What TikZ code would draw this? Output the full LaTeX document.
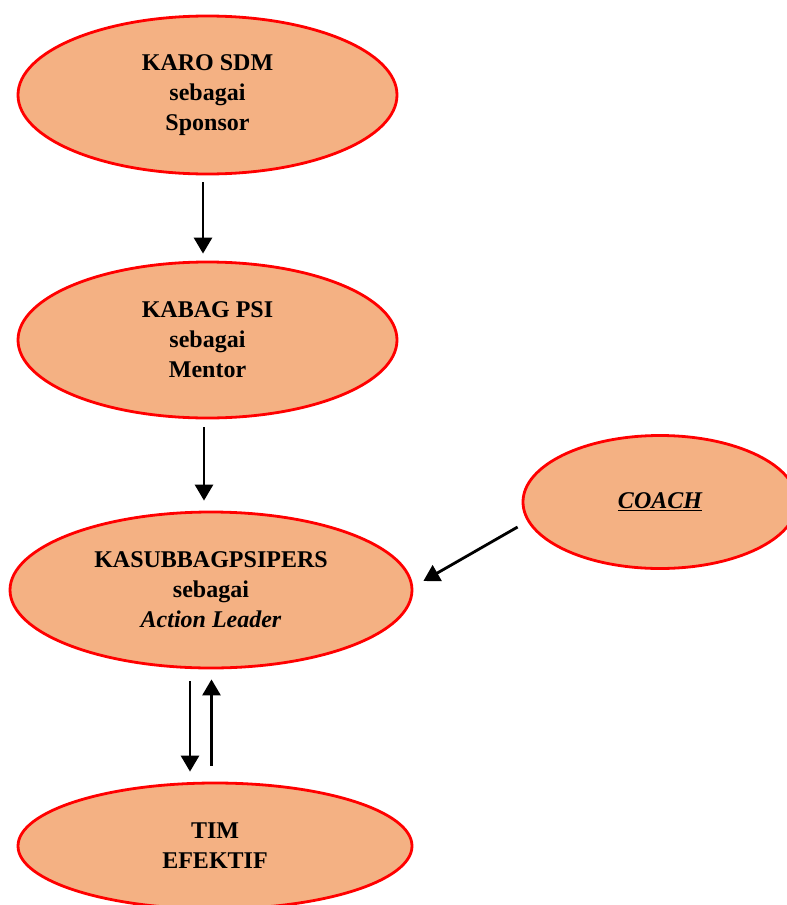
\documentclass[tikz,border=0pt]{standalone}
\usepackage{fontspec}
\setmainfont{Liberation Serif}
\usetikzlibrary{shapes.geometric,arrows.meta,calc}
\definecolor{fillor}{HTML}{F4B183}
\begin{document}
\begin{tikzpicture}[x=1pt,y=-1pt,
  oval/.style={ellipse,draw=red,line width=2.8pt,fill=fillor,inner sep=0pt,
    align=center,font=\fontsize{24}{30}\selectfont\bfseries},
  arr/.style={line width=2.8pt,-{Triangle[width=18pt,length=16pt]}}]
\useasboundingbox (0,0) rectangle (787,905);
\node[oval,minimum width=379pt,minimum height=158pt] (karo) at (207.5,95) {KARO SDM\\sebagai\\Sponsor};
\node[oval,minimum width=379pt,minimum height=156pt] (kabag) at (207.5,340) {KABAG PSI\\sebagai\\Mentor};
\node[oval,minimum width=402pt,minimum height=156pt] (kasub) at (211,590) {KASUBBAGPSIPERS\\sebagai\\\itshape Action Leader};
\node[oval,minimum width=274pt,minimum height=133pt] (coach) at (660,502) {\itshape\underline{COACH}};
\node[oval,minimum width=394pt,minimum height=126pt] (tim) at (215,846) {TIM\\EFEKTIF};
\draw[arr] ($(karo.south)+(-4.5,7)$) -- ($(kabag.north)+(-4.5,-7)$);
\draw[arr] ($(kabag.south)+(-3.5,8)$) -- ($(kasub.north)+(-7,-10)$);
\draw[arr] ($(coach.west)+(-4,25)$) -- ($(kasub.east)+(10,-9)$);
\draw[arr] ($(kasub.south)+(-21,12)$) -- ($(tim.north)+(-25,-10)$);
\draw[arr] ($(tim.north)+(-3.5,-16)$) -- ($(kasub.south)+(0.5,10)$);
\end{tikzpicture}
\end{document}
